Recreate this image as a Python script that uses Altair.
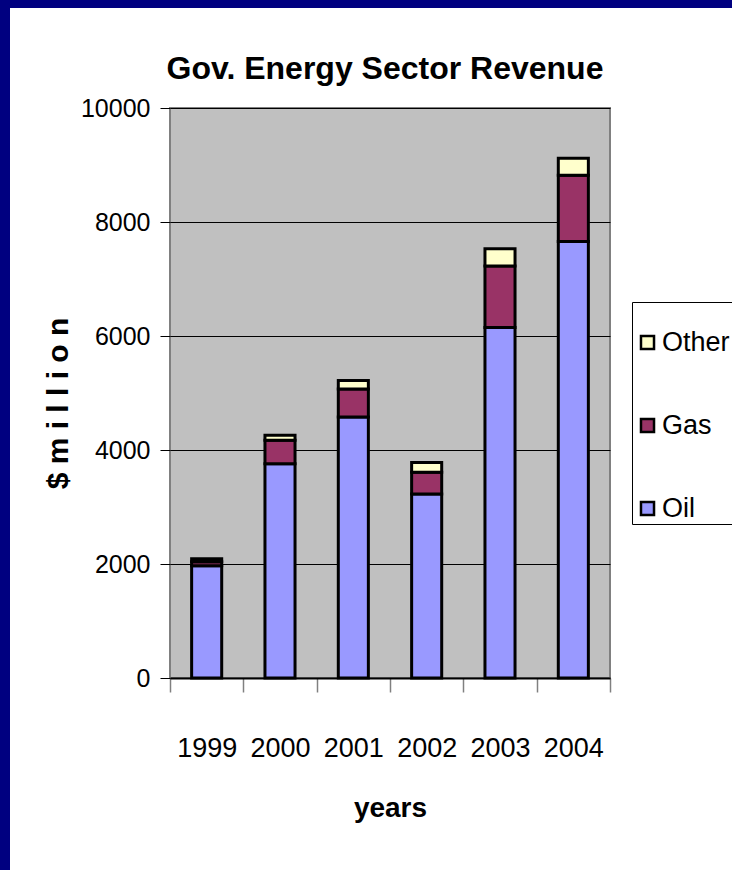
import altair as alt
import pandas as pd

# Government energy-sector revenue, $ million
years = ["1999", "2000", "2001", "2002", "2003", "2004"]
oil = [1970, 3760, 4580, 3230, 6150, 7660]
gas = [70, 410, 490, 380, 1080, 1160]
other = [50, 90, 150, 170, 300, 300]

sources = ["Other", "Gas", "Oil"]
source_colors = ["#FFFFCC", "#993366", "#9999FF"]
stack_rank = {"Oil": 0, "Gas": 1, "Other": 2}

chart_title = "Gov.  Energy Sector Revenue"

rows = []
for i, y in enumerate(years):
    for name, series in (("Oil", oil), ("Gas", gas), ("Other", other)):
        rows.append({"year": y, "source": name, "value": series[i], "rank": stack_rank[name]})
df = pd.DataFrame(rows)

FONT = "Liberation Sans, Arial, sans-serif"
NAVY = "#000080"

bars = alt.Chart(df).mark_bar(
    stroke="black", strokeWidth=3, width=alt.RelativeBandSize(0.41)
).encode(
    x=alt.X(
        "year:N",
        title="years",
        scale=alt.Scale(paddingInner=0, paddingOuter=0),
        axis=alt.Axis(
            labelAngle=0,
            labelFont=FONT,
            labelFontSize=27,
            labelColor="black",
            labelBaseline="middle",
            labelPadding=56,
            tickBand="extent",
            tickColor="#808080",
            tickWidth=1.5,
            tickSize=14,
            domainColor="black",
            domainWidth=2,
            titleFont=FONT,
            titleFontSize=28,
            titleFontWeight="bold",
            titleColor="black",
            titleBaseline="middle",
            titleY=130,
        ),
    ),
    y=alt.Y(
        "value:Q",
        stack="zero",
        title="$ m i l l i o n",
        scale=alt.Scale(domain=[0, 10000], nice=False),
        axis=alt.Axis(
            values=[0, 2000, 4000, 6000, 8000, 10000],
            format="d",
            labelFont=FONT,
            labelFontSize=25,
            labelColor="black",
            labelPadding=10,
            tickColor="black",
            tickSize=10,
            tickWidth=1,
            domain=False,
            grid=True,
            gridColor="black",
            gridWidth=1,
            gridOpacity=1,
            titleFont=FONT,
            titleFontSize=30,
            titleFontWeight="bold",
            titleColor="black",
            titleAngle=270,
            titleBaseline="middle",
            titleAlign="center",
            titleX=-112,
            titleY=295,
        ),
    ),
    color=alt.Color(
        "source:N",
        scale=alt.Scale(domain=sources, range=source_colors),
        legend=alt.Legend(
            title=" ",
            titleFontSize=10,
            titlePadding=15,
            orient="none",
            legendX=462,
            legendY=194,
            symbolType="square",
            symbolSize=170,
            symbolStrokeColor="black",
            symbolStrokeWidth=2.5,
            symbolOpacity=1,
            labelFont=FONT,
            labelFontSize=27,
            labelColor="black",
            labelOffset=1,
            rowPadding=55,
            padding=2,
            strokeColor="black",
            fillColor="white",
        ),
    ),
    order=alt.Order("rank:Q", sort="ascending"),
)

# Chart heading, centred over the plot
heading = alt.Chart(pd.DataFrame({"t": [chart_title]})).mark_text(
    font=FONT, fontSize=32, fontWeight="bold", color="black",
    align="center", baseline="alphabetic",
).encode(x=alt.value(215), y=alt.value(-29), text="t:N")

# Slide frame: navy band along the top and left edges
frame_df = pd.DataFrame({"k": [0]})
frame_left = alt.Chart(frame_df).mark_rect(color=NAVY).encode(
    x=alt.value(-170), x2=alt.value(-160), y=alt.value(-108), y2=alt.value(762)
)
frame_top = alt.Chart(frame_df).mark_rect(color=NAVY).encode(
    x=alt.value(-170), x2=alt.value(562), y=alt.value(-108), y2=alt.value(-100)
)

chart = (
    alt.layer(bars, heading, frame_left, frame_top)
    .properties(
        width=440,
        height=570,
        autosize=alt.AutoSizeParams(type="none"),
        padding={"left": 170, "top": 108, "right": 122, "bottom": 192},
        background="white",
    )
    .configure_view(fill="#C0C0C0", stroke="#808080", strokeWidth=2)
)

chart.save("out.html", embed_options={"renderer": "svg", "actions": False})
